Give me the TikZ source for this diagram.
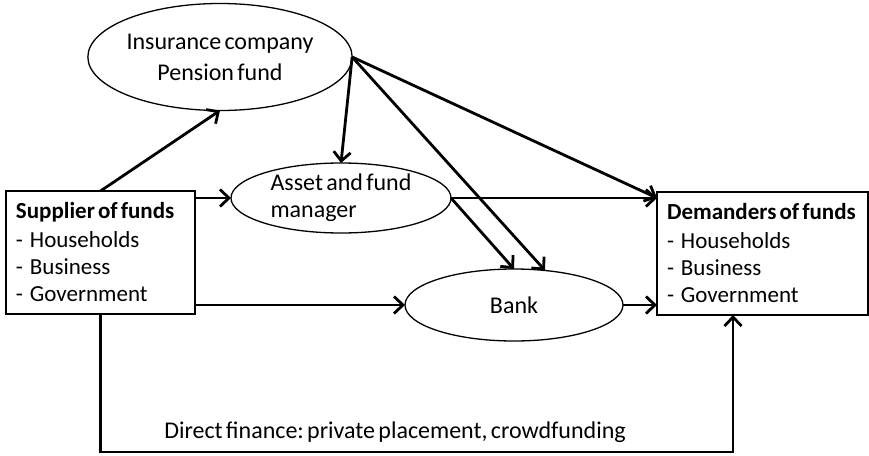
\documentclass[tikz,border=0pt]{standalone}
\usepackage{fontspec}
\setmainfont{Carlito}[WordSpace=0.6]
\usetikzlibrary{shapes.geometric,arrows.meta}
\frenchspacing
\newcommand\sector{-\hspace{.3em}}

\begin{document}
\begin{tikzpicture}
  [x=1pt,y=-1pt,
   fundbox/.style={draw,line width=1.8pt,rectangle,anchor=north west,align=flush left,
     inner xsep=10pt,inner ysep=4pt,minimum height=123pt,outer sep=0pt,
     font=\fontsize{23}{27}\selectfont},
   inter/.style={draw,line width=1.3pt,ellipse,inner sep=0pt,outer sep=0pt,
     font=\fontsize{24}{27}\selectfont},
   flow/.style={line width=2.8pt,-{Straight Barb[length=9pt,width=17pt]}}]
  \useasboundingbox (0,0) rectangle (869,455);

  \node[inter,minimum width=240,minimum height=107,align=center] (ins) at (220,57)
    {Insurance company\\[4pt]Pension fund};
  \node[inter,minimum width=220,minimum height=70,align=left] (asset) at (341,198)
    {Asset and fund\\manager};
  \node[inter,minimum width=218,minimum height=72] (bank) at (514,305) {Bank};

  \node[fundbox,text width=169pt] (sup) at (6,191)
    {\mbox{\textbf{Supplier of funds}}\\[2pt]\sector Households\\\sector Business\\\sector Government};
  \node[fundbox,text width=191pt] (dem) at (657,192)
    {\mbox{\textbf{Demanders of funds}}\\[2pt]\sector Households\\\sector Business\\\sector Government};

  \coordinate (dembot) at (733,452);
  \node[font=\fontsize{24}{27}\selectfont] (direct) at (395,432)
    {Direct finance: private placement, crowdfunding};

  \draw[flow] (sup.north) -- (ins.south);
  \draw[flow] (sup.east |- asset.west) -- (asset.west);
  \draw[flow] (sup.east |- bank.west) -- (bank.west);
  \draw[flow] (ins.east) -- (asset.north);
  \draw[flow] (ins.east) -- (bank.48);
  \draw[flow] (ins.east) -- (dem.west |- asset.east);
  \draw[flow] (asset.east) -- (dem.west |- asset.east);
  \draw[flow] (asset.east) -- (bank.north);
  \draw[flow] (bank.east) -- (dem.west |- bank.east);
  \draw[flow] (sup.south) |- (dembot) -- (dembot |- dem.south);
\end{tikzpicture}
\end{document}
